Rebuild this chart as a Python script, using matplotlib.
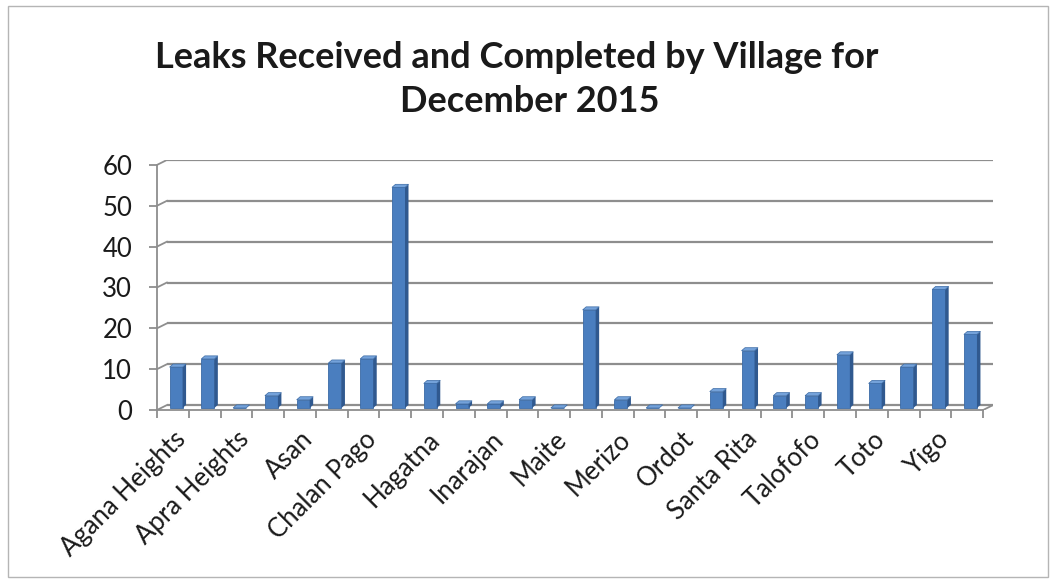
import numpy as np
import matplotlib
matplotlib.use("Agg")
import matplotlib.pyplot as plt
from matplotlib.patches import Polygon, Rectangle

plt.rcParams["font.family"] = ["Lato", "DejaVu Sans"]

# villages in chart order; only every other name is printed on the axis
villages = [
    "Agana Heights", "Agat", "Apra Heights", "Apra Harbor", "Asan",
    "Barrigada", "Chalan Pago", "Dededo", "Hagatna", "Hagatna Heights",
    "Inarajan", "Maina", "Maite", "Mangilao", "Merizo", "Mongmong",
    "Ordot", "Piti", "Santa Rita", "Sinajana", "Talofofo", "Tamuning",
    "Toto", "Umatac", "Yigo", "Yona",
]
leaks = [10, 12, 0, 3, 2, 11, 12, 54, 6, 1, 1, 2, 0, 24, 2, 0, 0, 4,
         14, 3, 3, 13, 6, 10, 29, 18]
y_ticks = [0, 10, 20, 30, 40, 50, 60]
title_lines = ["Leaks Received and Completed by Village for", "December 2015"]

# fake 3-D look (Excel style 3-D clustered column)
wall_dx, wall_dy = 0.31, 1.2     # back wall offset in data units
bar_w = 0.41
bar_shift, bar_base = 0.1, 0.5
side_dx, side_dy = 0.11, 0.75
front_c = "#4a7ebf"
side_c = "#30598f"
top_c = "#74a2da"
grid_c = "#8e8e8e"
text_c = "#1a1a1a"

n = len(villages)
x = np.arange(n)

fig = plt.figure(figsize=(10.53, 5.82), dpi=100)
ax = fig.add_axes([157 / 1053, (582 - 410) / 582, 836 / 1053, 250 / 582])
ax.set_xlim(-0.5, n - 0.5 + wall_dx)
ax.set_ylim(0, y_ticks[-1] + wall_dy)

# back wall gridlines with the little diagonal joining them to the front axis
for v in y_ticks:
    ax.plot([-0.5 + wall_dx, n - 0.5 + wall_dx], [v + wall_dy, v + wall_dy],
            color=grid_c, lw=1.6, zorder=1, solid_capstyle="butt")
    ax.plot([-0.5, -0.5 + wall_dx], [v, v + wall_dy], color=grid_c, lw=1.3,
            zorder=1)
# floor right edge
ax.plot([n - 0.5, n - 0.5 + wall_dx], [0, wall_dy], color=grid_c, lw=1.3,
        zorder=1)

bars = ax.bar(x + bar_shift, leaks, width=bar_w, bottom=bar_base,
              color=front_c, edgecolor="#3a6aa5", linewidth=0.6, zorder=3)
for rect, v in zip(bars, leaks):
    x0 = rect.get_x()
    x1 = x0 + rect.get_width()
    top = bar_base + v
    ax.add_patch(Polygon([(x1, bar_base), (x1 + side_dx, bar_base + side_dy),
                          (x1 + side_dx, top + side_dy), (x1, top)],
                         closed=True, facecolor=side_c, edgecolor="none",
                         zorder=3))
    ax.add_patch(Polygon([(x0, top), (x1, top), (x1 + side_dx, top + side_dy),
                          (x0 + side_dx, top + side_dy)],
                         closed=True, facecolor=top_c, edgecolor="#3a6aa5",
                         linewidth=0.5, zorder=4))

for s in ["top", "right"]:
    ax.spines[s].set_visible(False)
ax.spines["left"].set_bounds(0, y_ticks[-1])
ax.spines["bottom"].set_bounds(-0.5, n - 0.5)
for s in ["left", "bottom"]:
    ax.spines[s].set_color(grid_c)
    ax.spines[s].set_linewidth(1.3)

ax.set_yticks(y_ticks)
ax.set_yticklabels([str(v) for v in y_ticks])
ax.tick_params(axis="y", length=6, width=1.3, color=grid_c, labelsize=18.5,
               pad=12, labelcolor=text_c)

ax.set_xticks(x[::2])
ax.set_xticklabels(villages[::2], rotation=45, ha="right",
                   rotation_mode="anchor", fontsize=18.5, color=text_c)
ax.tick_params(axis="x", which="major", length=0, pad=12)
ax.set_xticks(np.arange(-0.5, n, 1), minor=True)
ax.tick_params(axis="x", which="minor", length=6, width=1.3, color=grid_c)

fig.text(517 / 1053, 1 - 57 / 582, title_lines[0], ha="center", va="center",
         fontsize=26, fontweight="bold", color=text_c)
fig.text(530 / 1053, 1 - 101 / 582, title_lines[1], ha="center", va="center",
         fontsize=26, fontweight="bold", color=text_c)

# chart frame
fig.patches.append(Rectangle((8 / 1053, 5 / 582), 1040 / 1053, 571 / 582,
                             transform=fig.transFigure, fill=False,
                             edgecolor="#b5b5b5", linewidth=1.0))

fig.savefig("out.png", dpi=100)
